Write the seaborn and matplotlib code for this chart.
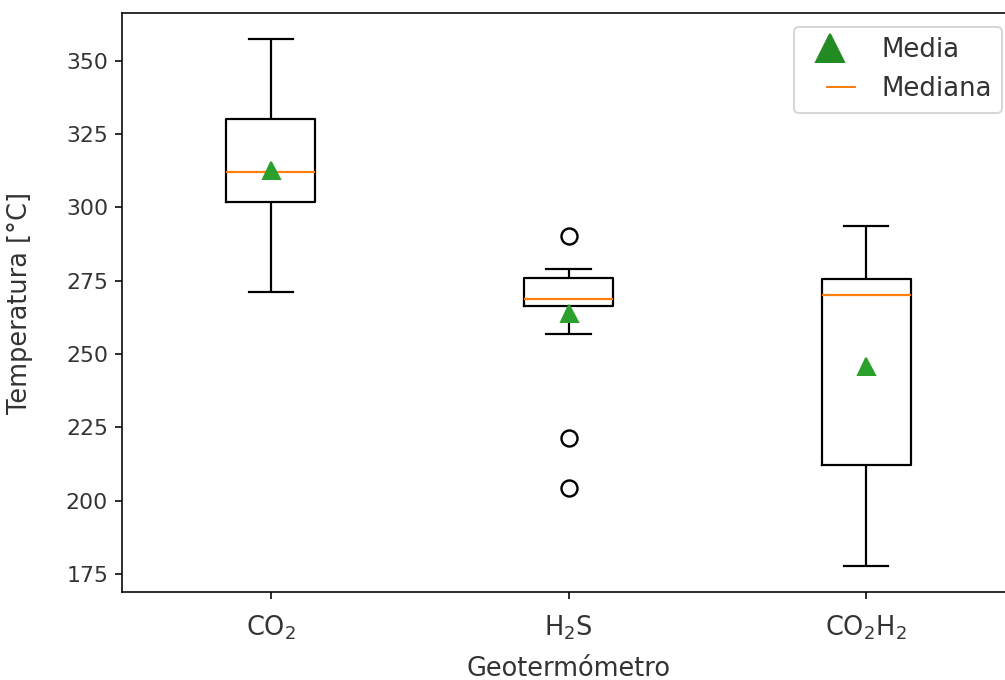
import numpy as np
import pandas as pd
import matplotlib
matplotlib.use("Agg")
import matplotlib.pyplot as plt
from matplotlib.lines import Line2D
import seaborn as sns

# ---- data ----
categories = ["CO$_2$", "H$_2$S", "CO$_2$H$_2$"]
co2 = [271.2, 288.0, 301.9, 305.0, 311.9, 316.0, 330.0, 334.0, 357.3]
h2s = [204.2, 221.5, 256.7, 256.8, 266.4, 266.8, 267.5, 268.0, 268.6,
       269.0, 270.5, 273.5, 275.8, 276.0, 277.5, 279.1, 290.1]
co2h2 = [177.8, 190.0, 212.1, 240.25, 270.2, 272.0, 275.6, 280.0, 293.8]
x_label = "Geotermómetro"
y_label = "Temperatura [°C]"
legend_labels = ["Media", "Mediana"]

df = pd.DataFrame({
    x_label: [categories[0]] * len(co2) + [categories[1]] * len(h2s) + [categories[2]] * len(co2h2),
    y_label: co2 + h2s + co2h2,
})

W, H, DPI = 1005, 680, 144
fig = plt.figure(figsize=(W / DPI, H / DPI), dpi=DPI)
ax = fig.add_axes([122 / W, 1 - 592 / H, 893 / W, (592 - 13) / H])

sns.boxplot(
    data=df, x=x_label, y=y_label, order=categories, ax=ax,
    width=0.3, fill=False, color="black", linewidth=1.1, whis=1.5,
    showmeans=True,
    medianprops=dict(color="#ff7f0e", linewidth=1.1),
    meanprops=dict(marker="^", markerfacecolor="#2ca02c", markeredgecolor="#2ca02c", markersize=8.5),
    flierprops=dict(marker="o", markerfacecolor="none", markeredgecolor="black", markersize=8, markeredgewidth=1.2),
    whiskerprops=dict(color="black", linewidth=1.1),
    capprops=dict(color="black", linewidth=1.1),
)

ax.set_xlabel(x_label, fontsize=12.8, labelpad=7, color="#333333")
ax.set_ylabel(y_label, fontsize=12.8, labelpad=16.5, color="#333333")
ax.tick_params(axis="x", labelsize=12.8, pad=7, labelcolor="#333333")
ax.tick_params(axis="y", labelsize=11, labelcolor="#333333")
ax.set_yticks([175, 200, 225, 250, 275, 300, 325, 350])

handles = [
    Line2D([], [], linestyle="none", marker="^", color="#228b22", markersize=14),
    Line2D([], [], color="#ff7f0e", linewidth=1.0, linestyle=(30, (15, 26))),
]
fig.legend(handles, legend_labels, loc="upper right",
           bbox_to_anchor=(1002 / W, 1 - 27 / H), borderaxespad=0,
           fontsize=13, handlelength=2.0, handletextpad=0.96,
           labelcolor="#333333")

fig.savefig("out.png", dpi=DPI)
